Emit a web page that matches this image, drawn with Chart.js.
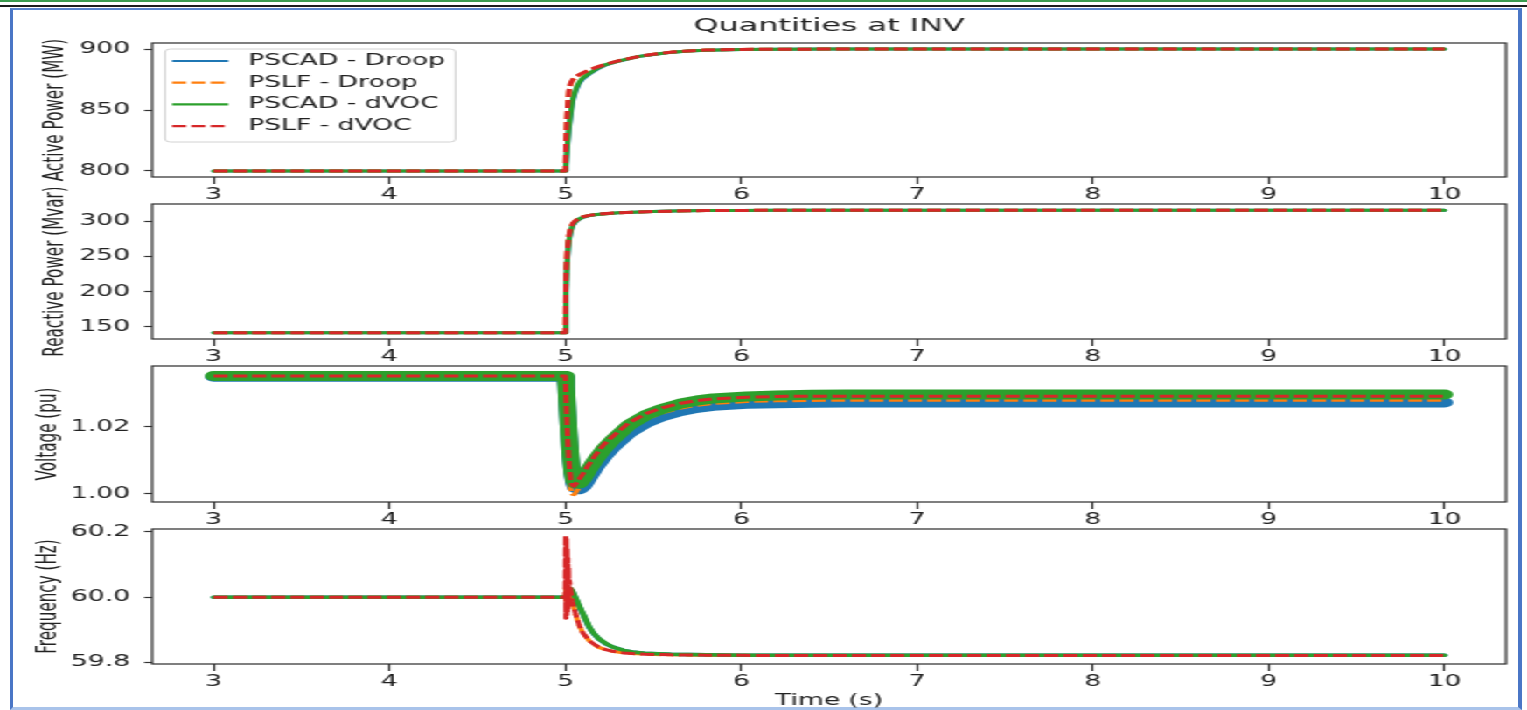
<!DOCTYPE html>
<html>
<head>
<meta charset="utf-8">
<title>Quantities at INV</title>
<script src="https://cdn.jsdelivr.net/npm/chart.js@4.4.1/dist/chart.umd.min.js"></script>
<style>
  html, body { margin: 0; padding: 0; background: #fff; }
  body { width: 1527px; height: 710px; position: relative; overflow: hidden; }
  .top-green { position: absolute; left: 0; top: 0; width: 1527px; height: 2px; background: #3b9b4f; }
  .top-dark { position: absolute; left: 0; top: 5px; width: 1527px; height: 2px; background: #1c1c1c; }
  .frame { position: absolute; left: 10px; top: 8px; width: 1512px; height: 702px; box-sizing: border-box;
           border-left: 3px solid #4a76c6; border-right: 4px solid #4a76c6;
           border-top: 2px solid #5a84cc; border-bottom: 3px solid #a9c3ea; }
  /* the source figure is stretched horizontally, so the whole stage is too */
  #stage { position: absolute; left: 0; top: 0; width: 873px; height: 710px;
           transform: scaleX(1.749141); transform-origin: 0 0; }
  .panel { position: absolute; left: 0; width: 873px; }
</style>
</head>
<body>
<div class="top-green"></div>
<div class="top-dark"></div>
<div class="frame"></div>
<div id="stage">
  <div class="panel" style="top:0;height:201px"><canvas id="cP"></canvas></div>
  <div class="panel" style="top:188px;height:175px"><canvas id="cQ"></canvas></div>
  <div class="panel" style="top:350px;height:176px"><canvas id="cV"></canvas></div>
  <div class="panel" style="top:513px;height:197px"><canvas id="cF"></canvas></div>
</div>
<script>
// ---- data ----
const seriesNames = ['PSCAD - Droop', 'PSLF - Droop', 'PSCAD - dVOC', 'PSLF - dVOC'];
const xTicks = [3, 4, 5, 6, 7, 8, 9, 10];

const tPower = [3, 5.0, 5.004, 5.01, 5.02, 5.03, 5.042, 5.06, 5.08, 5.1, 5.136, 5.18, 5.23, 5.3,
                5.42, 5.5, 5.61, 5.7, 5.8, 6.0, 6.2, 6.5, 7, 8, 9, 10];
const pPscadDroop = [800, 800, 804, 816, 833, 845, 857, 866, 872, 875.5, 879.5, 883.5, 887, 890,
                     894, 895.6, 897.5, 898.4, 899.1, 899.6, 899.8, 900, 900, 900, 900, 900];
const pPslfDroop  = [800, 800, 824, 845, 865, 871, 874.5, 877, 878.8, 880.3, 882.6, 885, 887.5, 890.2,
                     894, 895.7, 897.6, 898.5, 899.2, 899.7, 899.9, 900, 900, 900, 900, 900];
const pPscadDvoc  = [800, 800, 805, 818, 835, 847, 859, 867.5, 873, 876.5, 880, 884, 887.2, 890.1,
                     894, 895.6, 897.5, 898.4, 899.1, 899.6, 899.8, 900, 900, 900, 900, 900];
const pPslfDvoc   = [800, 800, 826, 847, 866, 872, 875, 877.5, 879, 880.5, 882.8, 885.2, 887.6, 890.3,
                     894.1, 895.8, 897.6, 898.5, 899.2, 899.7, 899.9, 900, 900, 900, 900, 900];
const pTicks = [800, 850, 900];

const qPscadDroop = [141.5, 141.5, 198, 238, 271, 284, 293.5, 299.5, 303, 305.5, 308, 309.5, 310.6, 311.8,
                     313, 313.6, 314.3, 314.7, 315, 315.3, 315.5, 315.6, 315.7, 315.7, 315.7, 315.7];
const qPslfDroop  = [141.5, 141.5, 222, 254, 279, 289.5, 296.5, 301, 304, 306, 308.2, 309.6, 310.7, 311.9,
                     313.1, 313.7, 314.3, 314.7, 315, 315.3, 315.5, 315.6, 315.7, 315.7, 315.7, 315.7];
const qPscadDvoc  = [141.5, 141.5, 202, 241, 273, 285.5, 294.5, 300, 303.4, 305.8, 308.2, 309.6, 310.7, 311.9,
                     313, 313.6, 314.3, 314.7, 315, 315.3, 315.5, 315.6, 315.7, 315.7, 315.7, 315.7];
const qPslfDvoc   = [141.5, 141.5, 226, 256, 280, 290, 297, 301.3, 304.2, 306.2, 308.3, 309.7, 310.8, 312,
                     313.1, 313.7, 314.3, 314.7, 315, 315.3, 315.5, 315.6, 315.7, 315.7, 315.7, 315.7];
const qTicks = [150, 200, 250, 300];

const tVolt = [3, 5.0, 5.005, 5.01, 5.02, 5.03, 5.04, 5.05, 5.06, 5.08, 5.1, 5.13, 5.17, 5.22, 5.27,
               5.36, 5.46, 5.55, 5.65, 5.75, 5.84, 6.03, 6.2, 6.4, 6.6, 7, 8, 9, 10];
const vPscadDroop = [1.0350, 1.0350, 1.0320, 1.0270, 1.0180, 1.0110, 1.0060, 1.0030, 1.0018, 1.0014,
                     1.0022, 1.0045, 1.0078, 1.0112, 1.0140, 1.0182, 1.0213, 1.0232, 1.0247, 1.0257,
                     1.0263, 1.0269, 1.0271, 1.0272, 1.0273, 1.0273, 1.0273, 1.0273, 1.0273];
const vPslfDroop  = [1.0352, 1.0352, 1.0270, 1.0180, 1.0070, 1.0015, 0.9999, 0.9998, 1.0005, 1.0020,
                     1.0037, 1.0063, 1.0095, 1.0128, 1.0154, 1.0194, 1.0224, 1.0242, 1.0256, 1.0265,
                     1.0270, 1.0276, 1.0278, 1.0279, 1.0280, 1.0280, 1.0280, 1.0280, 1.0280];
const vPscadDvoc  = [1.0352, 1.0352, 1.0322, 1.0272, 1.0182, 1.0112, 1.0062, 1.0038, 1.0031, 1.0031,
                     1.0043, 1.0069, 1.0101, 1.0135, 1.0162, 1.0205, 1.0236, 1.0254, 1.0269, 1.0279,
                     1.0285, 1.0291, 1.0294, 1.0296, 1.0297, 1.0297, 1.0297, 1.0297, 1.0297];
const vPslfDvoc   = [1.0352, 1.0352, 1.0280, 1.0200, 1.0100, 1.0045, 1.0026, 1.0023, 1.0030, 1.0045,
                     1.0060, 1.0085, 1.0115, 1.0148, 1.0172, 1.0212, 1.0240, 1.0257, 1.0270, 1.0279,
                     1.0284, 1.0289, 1.0291, 1.0292, 1.0292, 1.0292, 1.0292, 1.0292, 1.0292];
const vTicks = [1.00, 1.02];

const tFreq = [3, 5.0, 5.002, 5.004, 5.006, 5.008, 5.010, 5.012, 5.014, 5.016, 5.018, 5.020,
               5.023, 5.03, 5.04, 5.06, 5.08, 5.1, 5.136, 5.16, 5.19, 5.23, 5.27, 5.33, 5.38, 5.45,
               5.6, 5.8, 6.0, 6.5, 7, 8, 9, 10];
const fPscadDroop = [60.0, 60.0, 60.002, 60.004, 60.006, 60.008, 60.011, 60.013, 60.016, 60.018, 60.020, 60.022,
                     60.024, 60.024, 60.018, 59.994, 59.970, 59.948, 59.907, 59.889, 59.872, 59.857, 59.847, 59.837, 59.832, 59.828,
                     59.825, 59.823, 59.822, 59.8215, 59.8215, 59.8215, 59.8215, 59.8215];
const fPslfDroop  = [60.0, 60.0, 60.03, 59.99, 60.03, 59.99, 60.025, 59.995, 60.02, 60.0, 60.018, 60.005,
                     60.012, 60.005, 59.985, 59.945, 59.912, 59.89, 59.866, 59.856, 59.846, 59.839, 59.834, 59.829, 59.827, 59.825,
                     59.823, 59.822, 59.8215, 59.821, 59.821, 59.821, 59.821, 59.821];
const fPscadDvoc  = [60.0, 60.0, 60.002, 60.005, 60.007, 60.010, 60.012, 60.015, 60.018, 60.021, 60.023, 60.025,
                     60.027, 60.026, 60.020, 59.996, 59.972, 59.950, 59.909, 59.890, 59.873, 59.858, 59.847, 59.837, 59.832, 59.828,
                     59.825, 59.823, 59.822, 59.8215, 59.8215, 59.8215, 59.8215, 59.8215];
const fPslfDvoc   = [60.0, 60.0, 60.19, 59.935, 60.18, 59.945, 60.15, 59.955, 60.12, 59.965, 60.09, 59.975,
                     60.05, 60.02, 59.987, 59.945, 59.913, 59.890, 59.867, 59.857, 59.847, 59.839, 59.834, 59.829, 59.827, 59.825,
                     59.823, 59.822, 59.8215, 59.821, 59.821, 59.821, 59.821, 59.821];
const fTicks = [59.8, 60.0, 60.2];

// ---- style ----
const colors = ['#1f77b4', '#ff7f0e', '#2ca02c', '#d62728'];
const dashed = [false, true, false, true];
const FONT = 'DejaVu Sans';
const FS = 15.2;
const INK = '#222';

// full box around each axes, like matplotlib spines
const spines = {
  id: 'spines',
  afterDatasetsDraw(chart) {
    const { ctx, chartArea: a } = chart;
    ctx.save();
    ctx.strokeStyle = '#2a2a2a';
    ctx.lineWidth = 1.2;
    ctx.strokeRect(a.left, a.top, a.right - a.left, a.bottom - a.top);
    ctx.restore();
  }
};

// rotated y label, allowed to run past the axes height
const yLabel = {
  id: 'yLabel',
  afterDraw(chart, args, opts) {
    const { ctx, chartArea: a } = chart;
    ctx.save();
    ctx.translate(opts.x, (a.top + a.bottom) / 2);
    ctx.rotate(-Math.PI / 2);
    ctx.font = FS + 'px "' + FONT + '"';
    ctx.fillStyle = INK;
    ctx.textAlign = 'center';
    ctx.textBaseline = 'middle';
    ctx.fillText(opts.text, 0, 0);
    ctx.restore();
  }
};

// title centred over the plot area
const axTitle = {
  id: 'axTitle',
  afterDraw(chart) {
    const { ctx, chartArea: a } = chart;
    ctx.save();
    ctx.font = (FS * 1.2) + 'px "' + FONT + '"';
    ctx.fillStyle = INK;
    ctx.textAlign = 'center';
    ctx.textBaseline = 'middle';
    ctx.fillText('Quantities at INV', (a.left + a.right) / 2, 26);
    ctx.restore();
  }
};

// legend box in the upper left of the first axes
const insideLegend = {
  id: 'insideLegend',
  afterDraw(chart) {
    const { ctx, chartArea: a } = chart;
    const x0 = a.left + 7.4, y0 = a.top + 6, w = 166, h = 93, r = 3;
    ctx.save();
    ctx.beginPath();
    ctx.moveTo(x0 + r, y0);
    ctx.lineTo(x0 + w - r, y0); ctx.quadraticCurveTo(x0 + w, y0, x0 + w, y0 + r);
    ctx.lineTo(x0 + w, y0 + h - r); ctx.quadraticCurveTo(x0 + w, y0 + h, x0 + w - r, y0 + h);
    ctx.lineTo(x0 + r, y0 + h); ctx.quadraticCurveTo(x0, y0 + h, x0, y0 + h - r);
    ctx.lineTo(x0, y0 + r); ctx.quadraticCurveTo(x0, y0, x0 + r, y0);
    ctx.closePath();
    ctx.fillStyle = 'rgba(255,255,255,0.85)';
    ctx.fill();
    ctx.strokeStyle = '#d2d2d2';
    ctx.lineWidth = 1;
    ctx.stroke();
    ctx.font = FS + 'px "' + FONT + '"';
    ctx.textBaseline = 'middle';
    chart.data.datasets.forEach((ds, i) => {
      const y = a.top + 18 + i * 21.7;
      ctx.beginPath();
      ctx.setLineDash(ds.borderDash || []);
      ctx.strokeStyle = ds.borderColor;
      ctx.lineWidth = 2.2;
      ctx.moveTo(a.left + 11.4, y);
      ctx.lineTo(a.left + 43.5, y);
      ctx.stroke();
      ctx.setLineDash([]);
      ctx.fillStyle = INK;
      ctx.fillText(ds.label, a.left + 54.9, y);
    });
    ctx.restore();
  }
};

function makePanel(id, time, values, cfg) {
  const datasets = seriesNames.map((name, i) => ({
    label: name,
    data: time.map((t, k) => ({ x: t, y: values[i][k] })),
    borderColor: colors[i],
    backgroundColor: colors[i],
    borderWidth: cfg.widths[i],
    borderDash: dashed[i] ? [8, 3] : [],
    borderCapStyle: dashed[i] ? 'butt' : 'round',
    borderJoinStyle: 'round',
    pointRadius: 0,
    fill: false,
    tension: 0,
    order: 4 - i
  }));
  const tickFont = { family: FONT, size: FS };
  return new Chart(document.getElementById(id), {
    type: 'line',
    data: { datasets },
    plugins: cfg.first ? [spines, yLabel, insideLegend, axTitle] : [spines, yLabel],
    options: {
      responsive: true,
      maintainAspectRatio: false,
      animation: false,
      events: [],
      layout: { padding: { left: 0, right: 12, top: cfg.padTop, bottom: 0 } },
      plugins: {
        legend: { display: false }, tooltip: { enabled: false }, title: { display: false },
        yLabel: { text: cfg.yTitle, x: cfg.yTitleX }
      },
      scales: {
        x: {
          type: 'linear',
          min: 2.65,
          max: 10.35,
          afterBuildTicks: s => { s.ticks = xTicks.map(v => ({ value: v })); },
          afterFit: s => { s.height = cfg.xh; s.paddingLeft = 0; s.paddingRight = 0; },
          grid: { drawOnChartArea: false, drawTicks: true, tickLength: 7, tickColor: '#333', tickWidth: 1.2 },
          border: { display: false },
          ticks: { font: tickFont, color: INK, padding: 1.6, maxRotation: 0, autoSkip: false,
                   callback: v => String(v) },
          title: cfg.xTitle
            ? { display: true, text: cfg.xTitle, font: tickFont, color: INK, padding: { top: 0, bottom: 0 } }
            : { display: false }
        },
        y: {
          type: 'linear',
          min: cfg.min,
          max: cfg.max,
          afterBuildTicks: s => { s.ticks = cfg.ticks.map(v => ({ value: v })); },
          afterFit: s => { s.width = 87; s.paddingTop = 0; s.paddingBottom = 0; },
          grid: { drawOnChartArea: false, drawTicks: true, tickLength: 4.6, tickColor: '#333', tickWidth: 1.2 },
          border: { display: false },
          ticks: { font: tickFont, color: INK, padding: 8, autoSkip: false,
                   callback: v => v.toFixed(cfg.dec) },
          title: { display: false }
        }
      }
    }
  });
}

makePanel('cP', tPower, [pPscadDroop, pPslfDroop, pPscadDvoc, pPslfDvoc], {
  first: true, padTop: 43, xh: 24, min: 795, max: 905, ticks: pTicks, dec: 0,
  yTitle: 'Active Power (MW)', yTitleX: 32.2, widths: [3, 3, 3, 3]
});
makePanel('cQ', tPower, [qPscadDroop, qPslfDroop, qPscadDvoc, qPslfDvoc], {
  padTop: 16, xh: 24, min: 132.8, max: 324.4, ticks: qTicks, dec: 0,
  yTitle: 'Reactive Power (Mvar)', yTitleX: 32.2, widths: [3, 3, 3, 3]
});
makePanel('cV', tVolt, [vPscadDroop, vPslfDroop, vPscadDvoc, vPslfDvoc], {
  padTop: 16, xh: 24, min: 0.9976, max: 1.0382, ticks: vTicks, dec: 2,
  yTitle: 'Voltage (pu)', yTitleX: 28.1, widths: [10, 3, 10, 3]
});
makePanel('cF', tFreq, [fPscadDroop, fPslfDroop, fPscadDvoc, fPslfDvoc], {
  padTop: 16, xh: 46, min: 59.795, max: 60.209, ticks: fTicks, dec: 1,
  yTitle: 'Frequency (Hz)', yTitleX: 27.6, widths: [3.5, 3, 3.5, 3], xTitle: 'Time (s)'
});
</script>
</body>
</html>
